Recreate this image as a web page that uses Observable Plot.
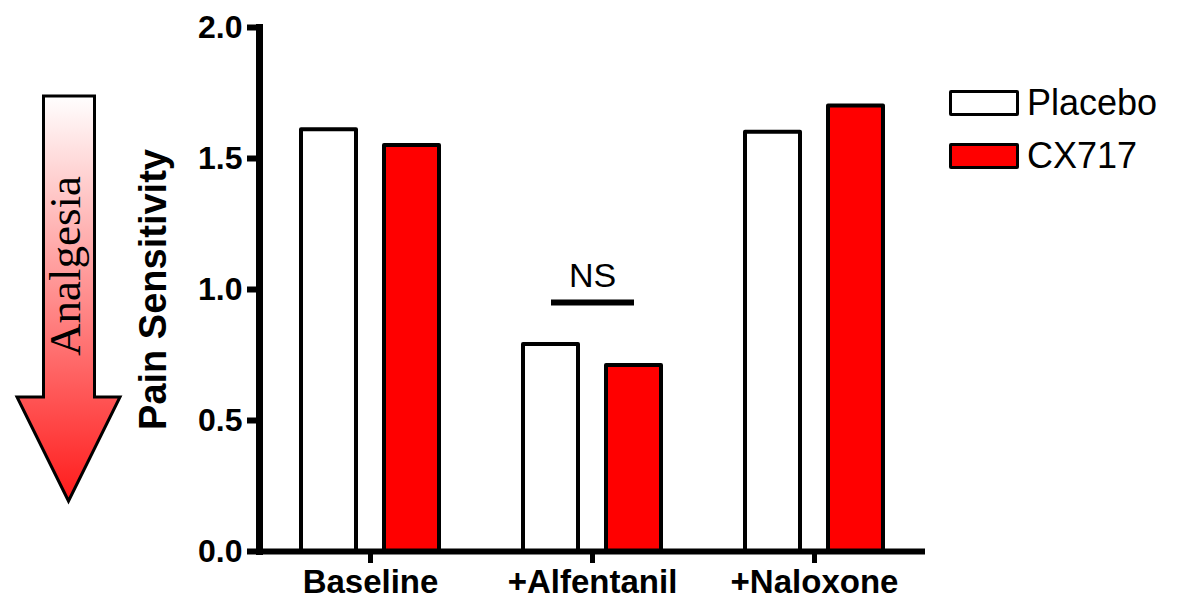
<!DOCTYPE html>
<html>
<head>
<meta charset="utf-8">
<script src="https://cdn.jsdelivr.net/npm/d3@7"></script>
<script src="https://cdn.jsdelivr.net/npm/@observablehq/plot@0.6"></script>
<style>
  html, body { margin: 0; padding: 0; background: #fff; color: #000; }
  #wrap { position: relative; width: 1182px; height: 600px; overflow: hidden; font-family: "Liberation Sans", Arial, sans-serif; }
  #wrap > svg.overlay { position: absolute; left: 0; top: 0; }
  .legend { position: absolute; left: 949px; display: flex; align-items: center; font-size: 36px; line-height: 1; }
  .legend .sw { width: 64px; height: 20px; border: 3.5px solid #000; border-radius: 2px; margin-right: 8px; box-sizing: content-box; }
</style>
</head>
<body>
<div id="wrap"></div>
<script>
// ---- data ----
const groups = ["Baseline", "+Alfentanil", "+Naloxone"];
const seriesNames = ["Placebo", "CX717"];
const seriesColors = ["#ffffff", "#ff0000"];
const placeboValues = [1.61, 0.79, 1.60];
const cx717Values = [1.55, 0.71, 1.70];
const yTicks = [0, 0.5, 1.0, 1.5, 2.0];
const yLabel = "Pain Sensitivity";
const nsGroup = "+Alfentanil";
const nsLevel = 0.95;
const nsLabel = "NS";
const arrowLabel = "Analgesia";

const data = groups.flatMap((g, i) => [
  {group: g, series: seriesNames[0], value: placeboValues[i]},
  {group: g, series: seriesNames[1], value: cx717Values[i]}
]);

const chart = Plot.plot({
  width: 1182,
  height: 600,
  marginTop: 27,
  marginBottom: 49,
  marginLeft: 258,
  marginRight: 256,
  style: {fontFamily: "'Liberation Sans', Arial, sans-serif", color: "#000", background: "transparent", overflow: "visible"},
  fx: {domain: groups, padding: 0, label: null, axis: null},
  x: {domain: seriesNames, paddingInner: 0.333, paddingOuter: 0.488, axis: null},
  y: {domain: [0, 2], axis: null},
  color: {domain: seriesNames, range: seriesColors},
  marks: [
    Plot.barY(data, {fx: "group", x: "series", y: "value", fill: "series", stroke: "#000", strokeWidth: 4, strokeLinejoin: "round"}),
    Plot.ruleY([0], {strokeWidth: 6}),
    Plot.frame({anchor: "left", facet: "super", strokeWidth: 7}),
    Plot.axisY({ticks: yTicks, tickFormat: d3.format(".1f"), tickSize: 12, tickPadding: 5, strokeWidth: 6, fontSize: 32, fontWeight: "bold", label: null}),
    Plot.axisFx({anchor: "bottom", tickSize: 12, tickPadding: 6, strokeWidth: 5, fontSize: 33, fontWeight: "bold", label: null}),
    Plot.text([yLabel], {fx: () => groups[0], text: d => d, frameAnchor: "left", textAnchor: "middle", rotate: -90, dx: -106, fontSize: 38, fontWeight: "bold"}),
    Plot.link([{group: nsGroup}], {fx: "group", x1: () => seriesNames[0], x2: () => seriesNames[1], y1: () => nsLevel, y2: () => nsLevel, strokeWidth: 6}),
    Plot.text([{group: nsGroup}], {fx: "group", text: () => nsLabel, y: () => 1.01, lineAnchor: "bottom", fontSize: 34})
  ]
});

const wrap = document.getElementById("wrap");
wrap.appendChild(chart);

// Analgesia arrow (annotation)
const ns = "http://www.w3.org/2000/svg";
const ov = document.createElementNS(ns, "svg");
ov.setAttribute("class", "overlay");
ov.setAttribute("width", 140);
ov.setAttribute("height", 600);
ov.innerHTML = `
  <defs>
    <linearGradient id="ag" x1="0" y1="95" x2="0" y2="502" gradientUnits="userSpaceOnUse">
      <stop offset="0" stop-color="#ffffff"/>
      <stop offset="1" stop-color="#ff1a1a"/>
    </linearGradient>
  </defs>
  <path d="M43.5,96 L94.5,96 L94.5,397 L120,397 L68.5,501 L17,397 L43.5,397 Z" fill="url(#ag)" stroke="#000" stroke-width="3" stroke-linejoin="miter"/>
  <text transform="translate(80,266) rotate(-90)" text-anchor="middle" font-family="'Liberation Serif', 'Times New Roman', serif" font-size="45">${arrowLabel}</text>
`;
wrap.appendChild(ov);

// legend
seriesNames.forEach((name, i) => {
  const row = document.createElement("div");
  row.className = "legend";
  row.style.top = (i === 0 ? 85 : 138) + "px";
  const sw = document.createElement("div");
  sw.className = "sw";
  sw.style.background = seriesColors[i];
  const lab = document.createElement("span");
  lab.textContent = name;
  row.appendChild(sw);
  row.appendChild(lab);
  wrap.appendChild(row);
});
</script>
</body>
</html>
